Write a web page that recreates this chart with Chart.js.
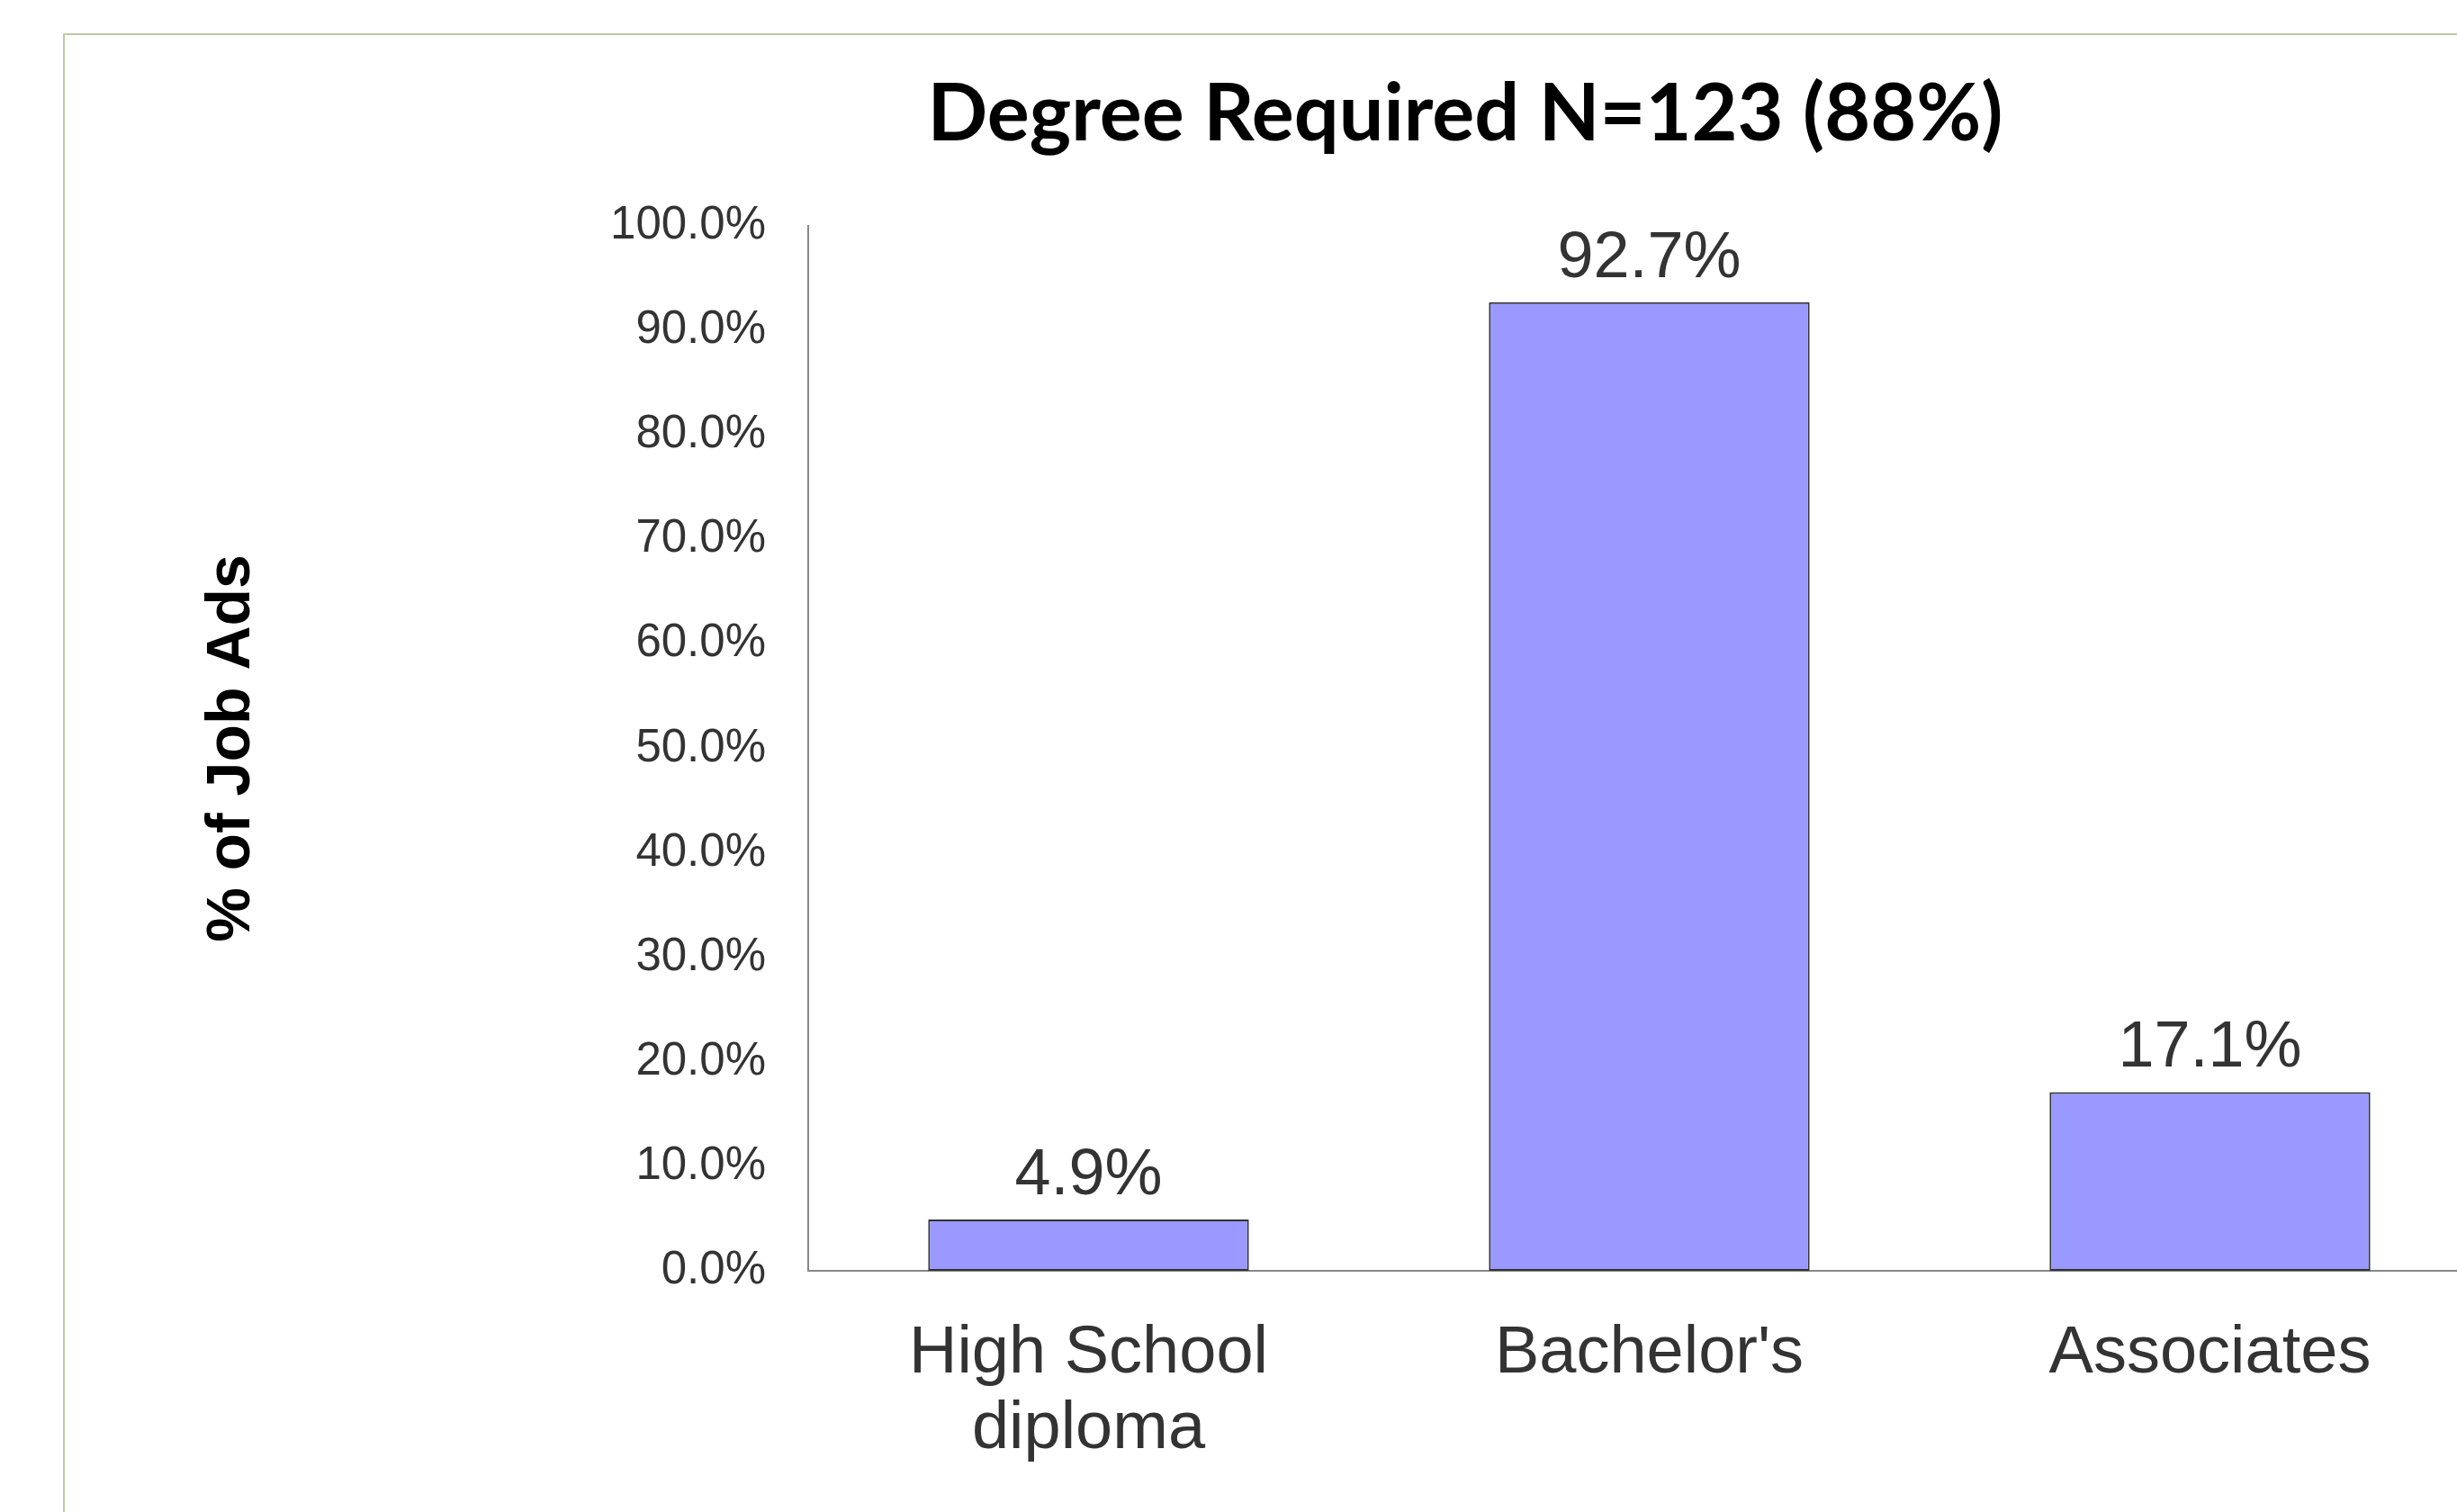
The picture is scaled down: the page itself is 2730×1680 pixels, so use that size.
<!DOCTYPE html>
<html>
<head>
<meta charset="utf-8">
<script src="https://cdn.jsdelivr.net/npm/chart.js@4.4.1/dist/chart.umd.min.js"></script>
<style>
  html, body { margin: 0; padding: 0; background: #fff; overflow: hidden; }
  body { width: 2730px; height: 1680px; position: relative; }
  #frame {
    position: absolute; left: 70px; top: 37px;
    width: 3000px; height: 3000px;
    border: 2px solid #bccb9f;
  }
  #wrap { position: absolute; left: 0; top: 0; }
</style>
</head>
<body>
<div id="frame"></div>
<div id="wrap"><canvas id="degreeChart" width="2800" height="1680"></canvas></div>
<script>
// Datos del gráfico
const chartTitle = 'Degree Required N=123 (88%)';
const yAxisTitle = '% of Job Ads';
const categories = [['High School', 'diploma'], "Bachelor's", 'Associates'];
const percentValues = [4.9, 92.7, 17.1];
const yTickMin = 0;
const yTickMax = 100;
const yTickStep = 10;

const canvas = document.getElementById('degreeChart');

// Plugin: título principal
const titlePlugin = {
  id: 'mainTitle',
  afterDraw(chart) {
    const { ctx, chartArea } = chart;
    ctx.save();
    ctx.font = 'bold 88px Lato, "Liberation Sans", sans-serif';
    ctx.fillStyle = '#000';
    ctx.textAlign = 'center';
    ctx.textBaseline = 'middle';
    ctx.fillText(chartTitle, chartArea.left + 730, 128);
    ctx.restore();
  }
};

// Plugin: etiquetas de valor encima de cada barra
const barLabelPlugin = {
  id: 'barLabels',
  afterDatasetsDraw(chart) {
    const { ctx } = chart;
    const meta = chart.getDatasetMeta(0);
    ctx.save();
    ctx.font = '72px "Liberation Sans", Arial, sans-serif';
    ctx.fillStyle = '#333333';
    ctx.textAlign = 'center';
    ctx.textBaseline = 'alphabetic';
    meta.data.forEach((bar, i) => {
      ctx.fillText(percentValues[i].toFixed(1) + '%', bar.x, bar.y - 28);
    });
    ctx.restore();
  }
};

const myChart = new Chart(canvas.getContext('2d'), {
  type: 'bar',
  data: {
    labels: categories,
    datasets: [{
      data: percentValues,
      backgroundColor: '#9999ff',
      borderColor: '#333333',
      borderWidth: 2,
      borderSkipped: false,
      barPercentage: 0.572,
      categoryPercentage: 1.0
    }]
  },
  options: {
    responsive: false,
    animation: false,
    devicePixelRatio: 1,
    layout: { padding: { left: 180, top: 251, right: 33, bottom: 0 } },
    plugins: {
      legend: { display: false },
      title: { display: false },
      tooltip: { enabled: false }
    },
    scales: {
      x: {
        offset: true,
        grid: { display: false, drawTicks: false },
        border: { display: true, color: '#888888', width: 2 },
        ticks: {
          color: '#333333',
          padding: 51,
          maxRotation: 0,
          autoSkip: false,
          font: { family: '"Liberation Sans", Arial, sans-serif', size: 74, lineHeight: 1.13 }
        },
        afterFit(scale) { scale.height = 268; }
      },
      y: {
        min: yTickMin,
        max: yTickMax,
        grid: { display: false, drawTicks: false },
        border: { display: true, color: '#888888', width: 2 },
        ticks: {
          stepSize: yTickStep,
          color: '#333333',
          padding: 47,
          font: { family: '"Liberation Sans", Arial, sans-serif', size: 51 },
          callback: v => v.toFixed(1) + '%'
        },
        title: {
          display: true,
          text: yAxisTitle,
          color: '#000000',
          padding: { top: 37, bottom: 0 },
          font: { family: '"Liberation Sans", Arial, sans-serif', size: 68, weight: 'bold', lineHeight: 1.2 }
        },
        afterFit(scale) { scale.width = 898 - 180; }
      }
    }
  },
  plugins: [titlePlugin, barLabelPlugin]
});
</script>
</body>
</html>
